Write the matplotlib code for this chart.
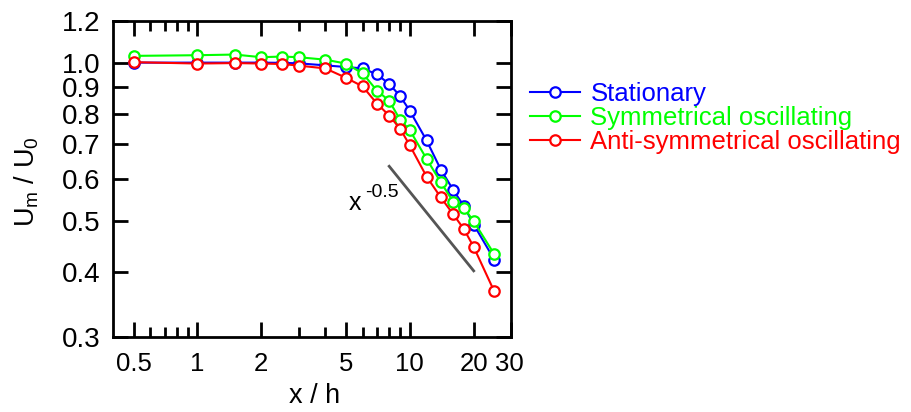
import numpy as np
import matplotlib
matplotlib.use("Agg")
import matplotlib.pyplot as plt
from matplotlib.ticker import FixedLocator, FixedFormatter, NullFormatter

plt.rcParams['font.family'] = ['Liberation Sans', 'DejaVu Sans']

# Datos
x_h = [0.5, 1, 1.5, 2, 2.5, 3, 4, 5, 6, 7, 8, 9, 10, 12, 14, 16, 18, 20, 25]
estacionario = [1.0, 1.0, 1.0, 1.0, 0.999, 0.997, 0.988, 0.981, 0.975, 0.950, 0.911,
                0.864, 0.810, 0.711, 0.626, 0.573, 0.533, 0.492, 0.422]
simetrico = [1.030, 1.033, 1.036, 1.024, 1.027, 1.024, 1.013, 0.996, 0.954, 0.885, 0.846,
             0.779, 0.744, 0.656, 0.592, 0.544, 0.529, 0.499, 0.432]
antisimetrico = [1.002, 0.996, 0.998, 0.996, 0.994, 0.987, 0.975, 0.936, 0.901, 0.836, 0.793,
                 0.749, 0.696, 0.607, 0.554, 0.515, 0.482, 0.446, 0.367]

series = [
    ("Stationary", estacionario, "#0000ff"),
    ("Symmetrical oscillating", simetrico, "#00ff00"),
    ("Anti-symmetrical oscillating", antisimetrico, "#ff0000"),
]

# Linea de referencia x^-0.5
ref_x = [8, 20]
ref_y0 = 0.635

x_major = [0.5, 1, 2, 5, 10, 20, 30]
x_labels = ["0.5", "1", "2", "5", "10", "20", ""]
x_minor = [0.6, 0.7, 0.8, 0.9, 3, 4, 6, 7, 8, 9]
y_ticks = [0.3, 0.4, 0.5, 0.6, 0.7, 0.8, 0.9, 1.0, 1.2]
y_labels = ["0.3", "0.4", "0.5", "0.6", "0.7", "0.8", "0.9", "1.0", "1.2"]

fig = plt.figure(figsize=(9.11, 4.12), dpi=100)
ax = fig.add_axes([0.124, 0.181, 0.437, 0.768])

for nombre, valores, color in series:
    ax.plot(x_h, valores, color=color, lw=1.5, marker='o', ms=7.5, mfc='white',
            mec=color, mew=1.6, label=nombre)

rx = np.array(ref_x, dtype=float)
ax.plot(rx, ref_y0 * (rx / rx[0]) ** -0.5, color='#555555', lw=2)
ax.text(5.17, 0.524, "x", fontsize=18, va='baseline', ha='left')
ax.annotate("-0.5", xy=(5.17, 0.524), xytext=(12, 9.5), textcoords='offset points',
            fontsize=14, va='baseline', ha='left')

ax.set_xscale('log')
ax.set_yscale('log')
ax.set_xlim(0.4, 30)
ax.set_ylim(0.3, 1.2)

ax.xaxis.set_major_locator(FixedLocator(x_major))
ax.xaxis.set_major_formatter(FixedFormatter(x_labels))
ax.xaxis.set_minor_locator(FixedLocator(x_minor))
ax.xaxis.set_minor_formatter(NullFormatter())
ax.yaxis.set_major_locator(FixedLocator(y_ticks))
ax.yaxis.set_major_formatter(FixedFormatter(y_labels))
ax.yaxis.set_minor_locator(FixedLocator([]))

ax.tick_params(which='both', direction='in', top=True, right=True, width=2)
ax.tick_params(which='major', length=11)
ax.tick_params(which='minor', length=7)
ax.tick_params(axis='x', pad=10.5, labelsize=18.5)
ax.tick_params(axis='y', pad=9, labelsize=20)
for s in ax.spines.values():
    s.set_linewidth(2)

# etiqueta 30 un poco desplazada a la izquierda, como en el original
ax.annotate("30", xy=(30, 0.3), xytext=(-1, -10.5), textcoords='offset points',
            fontsize=18.5, ha='center', va='top')

fig.text(315 / 911, 1 - 396 / 412, "x / h", fontsize=19.5, ha='center', va='center')
fig.text(27 / 911, 1 - 182 / 412, r"U$_\mathregular{m}$ / U$_\mathregular{0}$", fontsize=19.5,
         rotation=90, ha='center', va='center')

leg = fig.legend(loc='upper left', bbox_to_anchor=(530 / 911, 1 - 82 / 412), frameon=False,
                 fontsize=18.5, handlelength=1.95, handletextpad=0.4, labelspacing=0.0,
                 borderaxespad=0, borderpad=0)
for txt, (_, _, color) in zip(leg.get_texts(), series):
    txt.set_color(color)

fig.savefig("out.png", dpi=100)
